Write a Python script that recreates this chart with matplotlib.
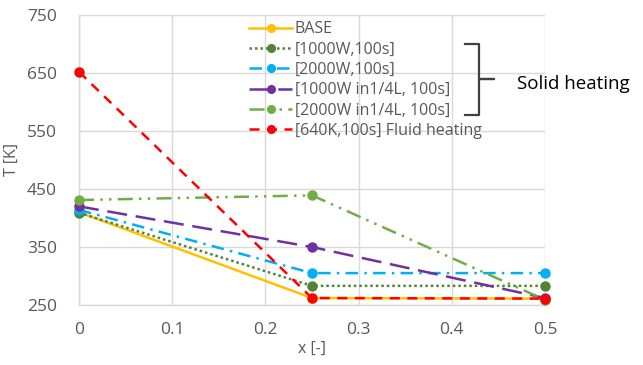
"""Temperature profiles T(x) for solid and fluid heating cases"""

import numpy as np
import matplotlib
matplotlib.use('Agg')
import matplotlib.pyplot as plt

# -----------------------------------------------------------------------------
# Data

x_pos = [0.0, 0.25, 0.5]

labels = ["BASE",
          "[1000W,100s]",
          "[2000W,100s]",
          "[1000W in1/4L, 100s]",
          "[2000W in1/4L, 100s]",
          "[640K,100s] Fluid heating"]

t_base = [410, 262, 261]
t_1000w = [409, 283, 283]
t_2000w = [414, 305, 305]
t_1000w_quarter = [420, 350, 262]
t_2000w_quarter = [431, 439, 259]
t_fluid = [652, 262, 261]

x_ticks = [0, 0.1, 0.2, 0.3, 0.4, 0.5]
y_ticks = [250, 350, 450, 550, 650, 750]

# -----------------------------------------------------------------------------

plt.rcParams['font.family'] = ['Open Sans', 'DejaVu Sans']

series = [t_base, t_1000w, t_2000w, t_1000w_quarter, t_2000w_quarter, t_fluid]
colors = ['#FFC000', '#548235', '#00B0F0', '#7030A0', '#70AD47', '#FF0000']
styles = ['-', (0, (1, 1.2)), (0, (5, 2.5, 1, 2.5)), (0, (8, 3.5)),
          (0, (6, 2.5, 1, 2.5, 1, 2.5)), (0, (4, 3))]

fig = plt.figure(figsize=(6.43, 3.65), dpi=100)
ax = fig.add_axes([79 / 643, 1 - 305 / 365, 466 / 643, 290 / 365])

for vals, lab, col, ls in zip(series, labels, colors, styles):
    ax.plot(x_pos, vals, color=col, linestyle=ls, linewidth=1.8,
            marker='o', markersize=6.5, label=lab, clip_on=False, zorder=3)

ax.set_xlim(0, 0.5)
ax.set_ylim(250, 750)
ax.set_xticks(x_ticks)
ax.set_xticklabels([f"{t:g}" for t in x_ticks])
ax.set_yticks(y_ticks)

ax.grid(True, color='#D9D9D9', linewidth=1.0)
ax.set_axisbelow(True)
for side in ['top', 'right']:
    ax.spines[side].set_visible(False)
for side in ['left', 'bottom']:
    ax.spines[side].set_color('#D9D9D9')
    ax.spines[side].set_linewidth(1.0)

ax.tick_params(axis='both', length=0, labelsize=12.5, colors='#595959')
ax.tick_params(axis='x', pad=12)
ax.tick_params(axis='y', pad=16)
ax.set_xlabel("x [-]", fontsize=11.5, color='#595959')
ax.set_ylabel("T [K]", fontsize=11.5, color='#595959')
ax.xaxis.set_label_coords(0.5, -0.125)
ax.yaxis.set_label_coords(-0.127, 0.5)

leg = ax.legend(loc='upper left', bbox_to_anchor=(0.355, 0.995), frameon=False,
                fontsize=11.5, handlelength=2.7, handletextpad=0.15,
                labelspacing=0.27, borderpad=0.3, borderaxespad=0.0,
                markerscale=0.85)
for txt in leg.get_texts():
    txt.set_color('#595959')

# bracket grouping the solid heating cases
bx = [465, 479, 479, 494, 479, 479, 465]
by = [44, 44, 79, 79, 79, 115, 115]
fig.add_artist(plt.Line2D(np.array(bx) / 643, 1 - np.array(by) / 365,
                          color='#404040', linewidth=1.6,
                          transform=fig.transFigure))
fig.text(517 / 643, 1 - 84 / 365, "Solid heating", fontsize=13.5,
         color='black', va='center', ha='left')

plt.savefig('out.png', dpi=100)
plt.close()
